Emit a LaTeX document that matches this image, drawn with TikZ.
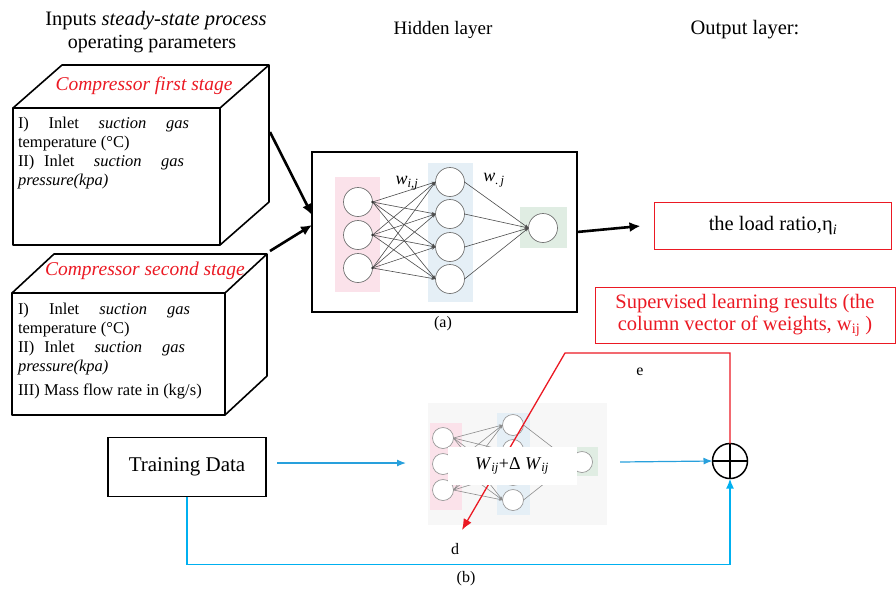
\documentclass[tikz,border=0pt]{standalone}
\usepackage{fontspec}
\setmainfont{Liberation Serif}
\usetikzlibrary{arrows.meta,calc}
\definecolor{myred}{RGB}{235,25,35}
\definecolor{myblue}{RGB}{40,160,220}
\definecolor{mycyan}{RGB}{0,176,240}
\definecolor{pinkbg}{RGB}{251,226,234}
\definecolor{bluebg}{RGB}{229,239,246}
\definecolor{greenbg}{RGB}{224,237,227}
\begin{document}
\begin{tikzpicture}[x=1pt,y=-1pt,
  every node/.style={inner sep=0pt, outer sep=0pt},
  lbl/.style={font=\fontsize{19}{22}\selectfont},
  small/.style={font=\fontsize{16}{18}\selectfont},
  boxtext/.style={font=\fontsize{16.5}{19}\selectfont, align=left, anchor=north west},
  redtitle/.style={font=\fontsize{19.5}{22}\selectfont\itshape, text=myred},
  cubeline/.style={line width=1.6pt, line join=round},
  neuron/.style={circle, draw=black!55, fill=white, line width=0.7pt, minimum size=29pt},
  sneuron/.style={circle, draw=black!40, fill=white, line width=0.7pt, minimum size=21pt},
  nnedge/.style={draw=black!70, line width=0.6pt, -{Stealth[length=4pt,width=3pt]}},
  snnedge/.style={draw=black!45, line width=0.6pt, -{Stealth[length=3.5pt,width=3pt]}},
  thickarrow/.style={line width=2.6pt, -{Latex[length=11pt,width=10pt]}},
  bluearrow/.style={draw=myblue, line width=1.2pt, -{Latex[length=9pt,width=7pt]}},
  redbox/.style={draw=myred, line width=1pt},
]
\useasboundingbox (0,0) rectangle (896,595);

% headings
\node[font=\fontsize{20.5}{23}\selectfont] (h1) at (156,21) {Inputs \textit{steady-state process}};
\node[font=\fontsize{20}{23}\selectfont] (h2) at (152,44) {operating parameters};
\node[lbl] (hid) at (443,30) {Hidden layer};
\node[font=\fontsize{20.5}{23}\selectfont] (outl) at (745,30) {Output layer:};

% cube 1
\node[draw, cubeline, minimum width=207pt, minimum height=137pt, anchor=north west] (f1) at (13,108) {};
\draw[cubeline] (f1.north west) -- ++(49,-43) -- ++(207,0) -- (f1.north east);
\draw[cubeline] ($(f1.north east)+(49,-43)$) -- ++(0,137) -- (f1.south east);
\node[redtitle] (t1) at (144,86) {Compressor first stage};
\node[boxtext] (b1) at (18,117) {%
\makebox[171pt][s]{I) \ Inlet \ \textit{suction} \ \textit{gas}}\\
temperature (°C)\\
\makebox[166pt][s]{II) Inlet \ \textit{suction} \ \textit{gas}}\\
\textit{pressure(kpa)}};

% cube 2
\node[draw, cubeline, minimum width=213pt, minimum height=122pt, anchor=north west] (f2) at (12,293) {};
\draw[cubeline] (f2.north west) -- ++(42,-39) -- ++(213,0) -- (f2.north east);
\draw[cubeline] ($(f2.north east)+(42,-39)$) -- ++(0,122) -- (f2.south east);
\node[redtitle] (t2) at (145,271) {Compressor second stage};
\node[boxtext] (b2) at (18,303) {%
\makebox[172pt][s]{I) \ Inlet \ \textit{suction} \ \textit{gas}}\\
temperature (°C)\\
\makebox[167pt][s]{II) Inlet \ \textit{suction} \ \textit{gas}}\\
\textit{pressure(kpa)}\\[5pt]
III) Mass flow rate in (kg/s)};

% network (a)
\node[draw, line width=1.4pt, fill=white, minimum width=265pt, minimum height=160pt, anchor=north west] (nnA) at (312,152) {};
\coordinate (s1) at (270,132);
\coordinate (s2) at (270,251);
\draw[thickarrow] (s1) -- ($(nnA.west)+(0,-17)$);
\draw[thickarrow] (s2) -- ($(nnA.west)+(0,-7)$);
\fill[pinkbg] (335,177) rectangle (380,292);
\fill[bluebg] (428,163) rectangle (473,302);
\fill[greenbg] (520,207) rectangle (567,248);
\foreach \k/\y in {1/202,2/235,3/268} \node[neuron] (i\k) at (358,\y) {};
\foreach \k/\y in {1/182,2/214,3/247,4/279} \node[neuron] (h\k) at (450,\y) {};
\node[neuron] (o) at (543,228) {};
\foreach \a in {1,2,3} {
  \foreach \b in {1,2,3,4} \draw[nnedge] (i\a.east) -- (h\b.west);
  \fill[black!80] (i\a.east) circle (1.3pt);
}
\foreach \b in {1,2,3,4} \draw[nnedge] (h\b.east) -- (o.west);
\node[font=\fontsize{18}{20}\selectfont] (wij) at (407,183) {\textit{w}\textsubscript{\textit{i,j}}};
\node[font=\fontsize{18}{20}\selectfont] (wj) at (494,180) {\textit{w}\textsubscript{\textit{.\,j}}};
\node[small] (la) at (443,324) {(a)};

% output
\node[redbox, font=\fontsize{20.5}{23}\selectfont, minimum width=237pt, minimum height=47pt] (load) at (773,226) {the load ratio,η\textsubscript{\textit{i}}};
\draw[line width=2.6pt, -{Latex[length=11pt,width=10pt]}] (nnA.east) -- ($(load.west)+(-14,0)$);
\node[redbox, font=\fontsize{20.5}{22}\selectfont, text=myred, align=center, minimum width=300pt, minimum height=56pt] (sup) at (745,315) {Supervised learning results (the\\column vector of weights, w\textsubscript{ij} )};

% network (b)
\node[fill=black!3, minimum width=179pt, minimum height=122pt, anchor=north west] (nnB) at (428,403) {};
\fill[pinkbg] (430,423) rectangle (462,510);
\fill[bluebg] (497,413) rectangle (530,515);
\fill[greenbg] (572,447) rectangle (598,476);
\foreach \k/\y in {1/438,2/464,3/490} \node[sneuron] (bi\k) at (443,\y) {};
\foreach \k/\y in {1/425,2/450,3/475,4/500} \node[sneuron] (bh\k) at (513,\y) {};
\node[sneuron] (bo) at (582,462) {};
\foreach \a in {1,2,3} {
  \foreach \b in {1,2,3,4} \draw[snnedge] (bi\a.east) -- (bh\b.west);
}
\foreach \b in {1,2,3,4} \draw[snnedge] (bh\b.east) -- (bo.west);

% training data and loop
\node[draw, line width=1.5pt, minimum width=158pt, minimum height=59pt, font=\fontsize{21}{23}\selectfont] (td) at (187,467) {Training Data};
\node[circle, draw, line width=1.5pt, minimum size=35pt] (sum) at (730,461) {};
\draw[line width=1.5pt] (sum.north) -- (sum.south) (sum.west) -- (sum.east);
\draw[bluearrow] ($(td.east)+(11,-4)$) -- ($(nnB.west)+(-22,-1)$);
\draw[bluearrow] ($(nnB.east)+(13,-2)$) -- (sum.west);
\draw[draw=mycyan, line width=1.8pt, -{Latex[length=10pt,width=8pt]}] (td.south) -- ++(0,68) -| (sum.south);

% error feedback
\coordinate (ecorner) at (565,353);
\coordinate (dtip) at (462,530);
\draw[draw=myred, line width=1.3pt, -{Latex[length=11pt,width=9pt]}] (sum.north) |- (ecorner) -- (dtip);
\node[fill=white, minimum width=129pt, minimum height=38pt, font=\fontsize{18}{20}\selectfont] (wl) at (512,466) {\textit{W}\textsubscript{\textit{ij}}+Δ \textit{W}\textsubscript{\textit{ij}}};
\node[small] (le) at (640,372) {e};
\node[small] (ld) at (455,549) {d};
\node[small] (lb) at (466,579) {(b)};
\end{tikzpicture}
\end{document}
